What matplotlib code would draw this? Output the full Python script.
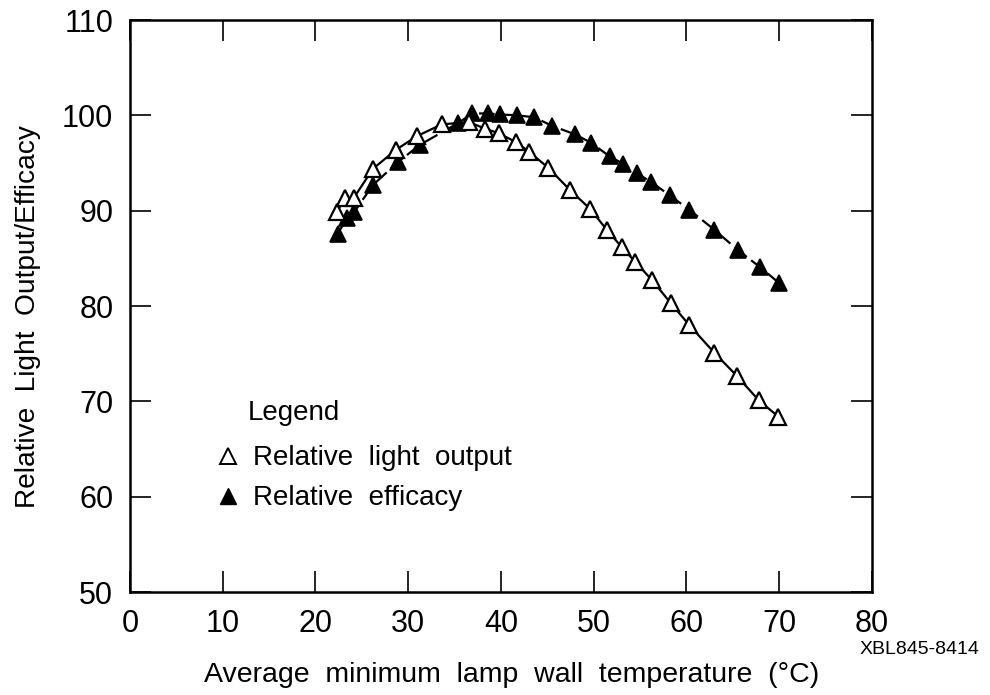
import matplotlib
matplotlib.use("Agg")
import matplotlib.pyplot as plt
from matplotlib.lines import Line2D

plt.rcParams['font.family'] = ['Liberation Sans', 'DejaVu Sans']

# Relative light output (open triangles)
light_x = [22.3, 23.2, 24.1, 26.2, 28.7, 30.9, 33.6, 36.5, 38.3, 39.8, 41.6, 43.0,
           45.1, 47.4, 49.6, 51.4, 53.0, 54.5, 56.3, 58.3, 60.3, 63.0, 65.4, 67.8, 69.9]
light_y = [89.9, 91.3, 91.3, 94.4, 96.4, 97.8, 99.05, 99.3, 98.6, 98.1, 97.2, 96.2,
           94.5, 92.2, 90.2, 88.0, 86.2, 84.6, 82.7, 80.3, 78.0, 75.1, 72.7, 70.1, 68.4]

# Relative efficacy (filled triangles)
eff_x = [22.4, 23.4, 24.2, 26.2, 28.9, 31.25, 35.4, 36.9, 38.6, 39.9, 41.7, 43.6,
         45.5, 48.0, 49.75, 51.7, 53.2, 54.7, 56.2, 58.2, 60.3, 63.0, 65.5, 67.9, 70.0]
eff_y = [87.6, 89.2, 89.9, 92.7, 95.1, 96.9, 99.2, 100.2, 100.2, 100.1, 100.0, 99.8,
         98.9, 98.0, 97.1, 95.7, 94.9, 93.9, 93.0, 91.6, 90.1, 88.0, 85.9, 84.1, 82.4]

x_ticks = [0, 10, 20, 30, 40, 50, 60, 70, 80]
y_ticks = [50, 60, 70, 80, 90, 100, 110]

fig = plt.figure(figsize=(9.9, 6.95), dpi=100)
ax = fig.add_axes([0.1313, 0.1482, 0.7495, 0.8230])

ax.plot(eff_x, eff_y, color='black', lw=1.6, dashes=(7, 2.5), zorder=2)
ax.plot(eff_x, eff_y, ls='none', marker='^', ms=12, mfc='black', mec='black', mew=1.2, zorder=3)
ax.plot(light_x, light_y, color='black', lw=1.6, zorder=4)
ax.plot(light_x, light_y, ls='none', marker='^', ms=12, mfc='white', mec='black', mew=1.6, zorder=5)

ax.set_xlim(0, 80)
ax.set_ylim(50, 110)
ax.set_xticks(x_ticks)
ax.set_yticks(y_ticks)
ax.tick_params(axis='both', direction='in', length=15, width=1.2, labelsize=22,
               top=True, right=True)
ax.tick_params(axis='x', pad=12)
ax.tick_params(axis='y', pad=12)
for s in ax.spines.values():
    s.set_linewidth(1.8)

ax.set_xlabel('Average  minimum  lamp  wall  temperature  (°C)', fontsize=20.5, labelpad=17)
ax.set_ylabel('Relative  Light  Output/Efficacy', fontsize=20.2, labelpad=15)
ax.xaxis.label.set_x(0.515)
ax.yaxis.label.set_y(0.481)

handles = [
    Line2D([], [], ls='none', marker='^', ms=11, mfc='white', mec='black', mew=1.4),
    Line2D([], [], ls='none', marker='^', ms=11, mfc='black', mec='black'),
]
leg = ax.legend(handles, ['Relative  light  output', 'Relative  efficacy'],
                title='Legend', frameon=False, fontsize=20, title_fontsize=20,
                loc='upper left', bbox_to_anchor=(0.099, 0.36),
                handlelength=0.8, handletextpad=0.5, labelspacing=0.5,
                borderpad=0, alignment='left')
leg._legend_box.sep = 14
leg.get_title().set_position((30, 0))

fig.text(0.868, 0.065, 'XBL845-8414', fontsize=14, ha='left', va='center')

fig.savefig('out.png', dpi=100)
